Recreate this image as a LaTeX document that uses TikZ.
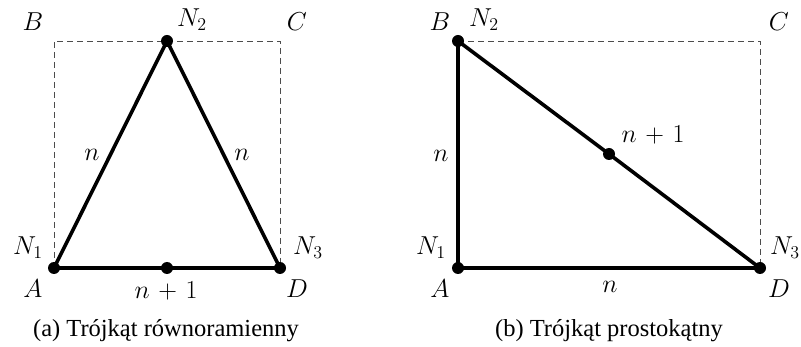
\documentclass[tikz,border=0pt]{standalone}
\usepackage{fontspec}
\setmainfont{Liberation Serif}
\newcommand{\lab}[1]{\scalebox{1.25}{$#1$}}
\newcommand{\np}{n\mskip2mu+\mskip2mu1}
\begin{document}
\begin{tikzpicture}[x=1pt,y=-1pt,
  dot/.style={circle,fill=black,inner sep=0pt,minimum size=12pt},
  seg/.style={line width=3.6pt,line cap=round},
  dashframe/.style={draw=black!70,dashed,line width=0.9pt,dash pattern=on 6pt off 4pt},
  lbl/.style={font=\fontsize{20}{24}\selectfont,inner sep=0pt},
  captxt/.style={font=\fontsize{24.5}{28}\selectfont,inner sep=0pt}]
\useasboundingbox (0,0) rectangle (801,347);
% ---- left panel
\coordinate (aA) at (54,268);
\coordinate (aB) at (54,41);
\coordinate (aC) at (280,41);
\coordinate (aD) at (280,268);
\draw[dashframe] (aA) -- (aB) -- (aC) -- (aD);
\node[dot] (aN1) at (aA) {};
\node[dot] (aN2) at (167,41) {};
\node[dot] (aN3) at (aD) {};
\node[dot] (aM) at (167,268) {};
\draw[seg] (aN1.center) -- (aN2.center) -- (aN3.center) -- (aM.center) -- cycle;
\node[lbl] (laB) at (33,22) {\lab{B}};
\node[lbl] (laN2) at (192,20) {\lab{N_2}};
\node[lbl] (laC) at (297,22) {\lab{C}};
\node[lbl] (laN1) at (28,248) {\lab{N_1}};
\node[lbl] (laA) at (33,289) {\lab{A}};
\node[lbl] (lan1) at (92,155) {\lab{n}};
\node[lbl] (lan2) at (242,155) {\lab{n}};
\node[lbl] (laM) at (166,291) {\lab{\np}};
\node[lbl] (laD) at (297,289) {\lab{D}};
\node[lbl] (laN3) at (308,248) {\lab{N_3}};
\node[captxt] (capa) at (166,331) {(a) Trójkąt równoramienny};
% ---- right panel
\coordinate (bA) at (458,268);
\coordinate (bB) at (458,41);
\coordinate (bC) at (760,41);
\coordinate (bD) at (760,268);
\draw[dashframe] (bB) -- (bC) -- (bD);
\node[dot] (bN1) at (bA) {};
\node[dot] (bN2) at (bB) {};
\node[dot] (bN3) at (bD) {};
\node[dot] (bM) at (609,154) {};
\draw[seg] (bN1.center) -- (bN2.center) -- (bM.center) -- (bN3.center) -- cycle;
\node[lbl] (lbB) at (440,22) {\lab{B}};
\node[lbl] (lbN2) at (484,20) {\lab{N_2}};
\node[lbl] (lbC) at (779,22) {\lab{C}};
\node[lbl] (lbN1) at (431,248) {\lab{N_1}};
\node[lbl] (lbA) at (440,289) {\lab{A}};
\node[lbl] (lbn1) at (441,156) {\lab{n}};
\node[lbl] (lbM) at (653,135) {\lab{\np}};
\node[lbl] (lbn2) at (610,287) {\lab{n}};
\node[lbl] (lbD) at (779,289) {\lab{D}};
\node[lbl] (lbN3) at (785,248) {\lab{N_3}};
\node[captxt] (capb) at (609,331) {(b) Trójkąt prostokątny};
\end{tikzpicture}
\end{document}
